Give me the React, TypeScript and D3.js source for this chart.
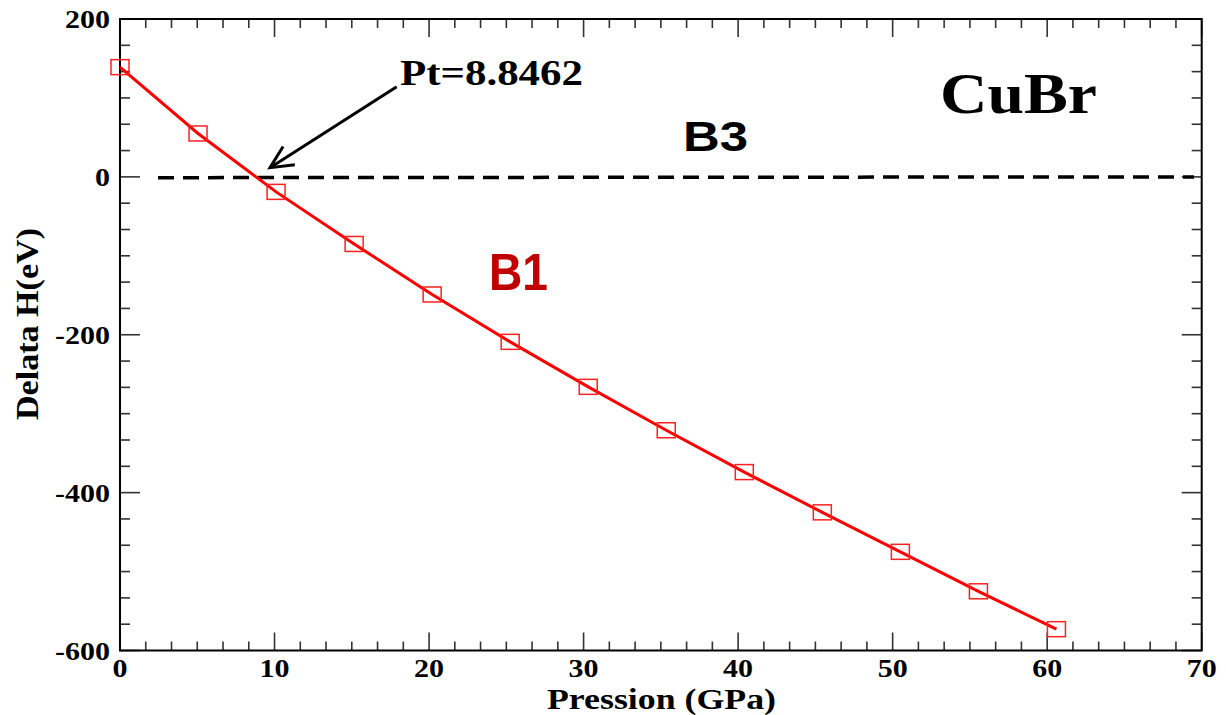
import React from "react";
import * as d3 from "d3";

const pressure = [0, 5.05, 10.1, 15.15, 20.2, 25.25, 30.3, 35.35, 40.4, 45.45, 50.5, 55.55, 60.6];
const deltaH = [139, 55, -19, -85, -149, -209, -266, -321, -374, -425, -475, -525, -573];
const b3X = [2.46, 69.5];
const b3Y = [-1, 0];
const xTicks = [0, 10, 20, 30, 40, 50, 60, 70];
const yTicks = [200, 0, -200, -400, -600];

const W = 1226, H = 715;
const M = { left: 120, right: 1201.7, top: 19, bottom: 650.5 };
const SERIF = "Liberation Serif, Times New Roman, Times, serif";
const SANS = "Liberation Sans, Arial, sans-serif";

export default function App() {
  const x = d3.scaleLinear().domain([0, 70]).range([M.left, M.right]);
  const y = d3.scaleLinear().domain([-600, 200]).range([M.bottom, M.top]);

  const xMinor = d3.range(0, 70.001, 10 / 6).filter((v) => !xTicks.some((t) => Math.abs(t - v) < 1e-6));
  const yMinor = d3.range(-600, 200.001, 200 / 6).filter((v) => !yTicks.some((t) => Math.abs(t - v) < 1e-6));

  const pts = pressure.map((p, i) => [p, deltaH[i]] as [number, number]);
  const line = d3.line<[number, number]>().x((d) => x(d[0])).y((d) => y(d[1]));
  const b3 = b3X.map((v, i) => [v, b3Y[i]] as [number, number]);

  const tickColor = "#333";
  const sx = 1.2;

  // arrow
  const tail = [396.7, 86.7];
  const tip = [270, 167.7];
  const ang = Math.atan2(tail[1] - tip[1], tail[0] - tip[0]);
  const headLen = 25, headAng = 0.45;
  const h1 = [tip[0] + headLen * Math.cos(ang + headAng), tip[1] + headLen * Math.sin(ang + headAng)];
  const h2 = [tip[0] + headLen * Math.cos(ang - headAng), tip[1] + headLen * Math.sin(ang - headAng)];

  return (
    <svg width={W} height={H} style={{ position: "absolute", left: 0, top: 0, background: "#fff" }}>
      {/* ticks */}
      {xTicks.map((t) => (
        <g key={"xt" + t}>
          <line x1={x(t)} x2={x(t)} y1={M.bottom} y2={M.bottom - 18} stroke={tickColor} strokeWidth={1.6} />
          <line x1={x(t)} x2={x(t)} y1={M.top} y2={M.top + 18} stroke={tickColor} strokeWidth={1.6} />
        </g>
      ))}
      {xMinor.map((t, i) => (
        <g key={"xm" + i}>
          <line x1={x(t)} x2={x(t)} y1={M.bottom} y2={M.bottom - 9} stroke={tickColor} strokeWidth={1.6} />
          <line x1={x(t)} x2={x(t)} y1={M.top} y2={M.top + 9} stroke={tickColor} strokeWidth={1.6} />
        </g>
      ))}
      {yTicks.map((t) => (
        <g key={"yt" + t}>
          <line x1={M.left} x2={M.left + 20} y1={y(t)} y2={y(t)} stroke={tickColor} strokeWidth={1.6} />
          <line x1={M.right} x2={M.right - 20} y1={y(t)} y2={y(t)} stroke={tickColor} strokeWidth={1.6} />
        </g>
      ))}
      {yMinor.map((t, i) => (
        <g key={"ym" + i}>
          <line x1={M.left} x2={M.left + 10} y1={y(t)} y2={y(t)} stroke={tickColor} strokeWidth={1.6} />
          <line x1={M.right} x2={M.right - 10} y1={y(t)} y2={y(t)} stroke={tickColor} strokeWidth={1.6} />
        </g>
      ))}
      {/* frame */}
      <rect x={M.left} y={M.top} width={M.right - M.left} height={M.bottom - M.top} fill="none" stroke="#000" strokeWidth={2} />

      {/* tick labels */}
      {xTicks.map((t) => (
        <text key={"xl" + t} transform={`translate(${x(t)},${M.bottom + 26}) scale(${sx},1)`} textAnchor="middle"
          fontFamily={SERIF} fontWeight="bold" fontSize={25} fill="#000">{t}</text>
      ))}
      {yTicks.map((t) => (
        <text key={"yl" + t} transform={`translate(${M.left - 10},${y(t) + 9}) scale(${sx},1)`} textAnchor="end"
          fontFamily={SERIF} fontWeight="bold" fontSize={25} fill="#000">{t}</text>
      ))}

      {/* axis titles */}
      <text x={547} y={709} textLength={229} lengthAdjust="spacingAndGlyphs" fontFamily={SERIF} fontWeight="bold" fontSize={30} fill="#000">
        Pression (GPa)
      </text>
      <text transform={`translate(38,${420}) rotate(-90)`} textLength={192} lengthAdjust="spacingAndGlyphs"
        fontFamily={SERIF} fontWeight="bold" fontSize={32} fill="#000">
        Delata H(eV)
      </text>

      {/* B3 dashed */}
      <path d={line(b3) || ""} fill="none" stroke="#000" strokeWidth={3.5} strokeDasharray="16,9" />

      {/* B1 line */}
      <path d={line(pts) || ""} fill="none" stroke="#ff0000" strokeWidth={3} />
      {pts.map((d, i) => (
        <rect key={"m" + i} x={x(d[0]) - 9} y={y(d[1]) - 7.5} width={18} height={15} fill="none" stroke="#ff2020" strokeWidth={1.5} />
      ))}

      {/* arrow */}
      <line x1={tail[0]} y1={tail[1]} x2={tip[0]} y2={tip[1]} stroke="#000" strokeWidth={3} />
      <polyline points={`${h1[0]},${h1[1]} ${tip[0]},${tip[1]} ${h2[0]},${h2[1]}`} fill="none" stroke="#000" strokeWidth={3} />

      {/* annotations */}
      <text x={400} y={85} textLength={183} lengthAdjust="spacingAndGlyphs" fontFamily={SERIF} fontWeight="bold" fontSize={35} fill="#000">Pt=8.8462</text>
      <text x={940} y={113} textLength={157} lengthAdjust="spacingAndGlyphs" fontFamily={SERIF} fontWeight="bold" fontSize={58} fill="#000">CuBr</text>
      <text x={683} y={151} textLength={65} lengthAdjust="spacingAndGlyphs" fontFamily={SANS} fontWeight="bold" fontSize={43} fill="#000">B3</text>
      <text x={489} y={290} textLength={59} lengthAdjust="spacingAndGlyphs" fontFamily={SANS} fontWeight="bold" fontSize={51} fill="#c00000">B1</text>
    </svg>
  );
}
